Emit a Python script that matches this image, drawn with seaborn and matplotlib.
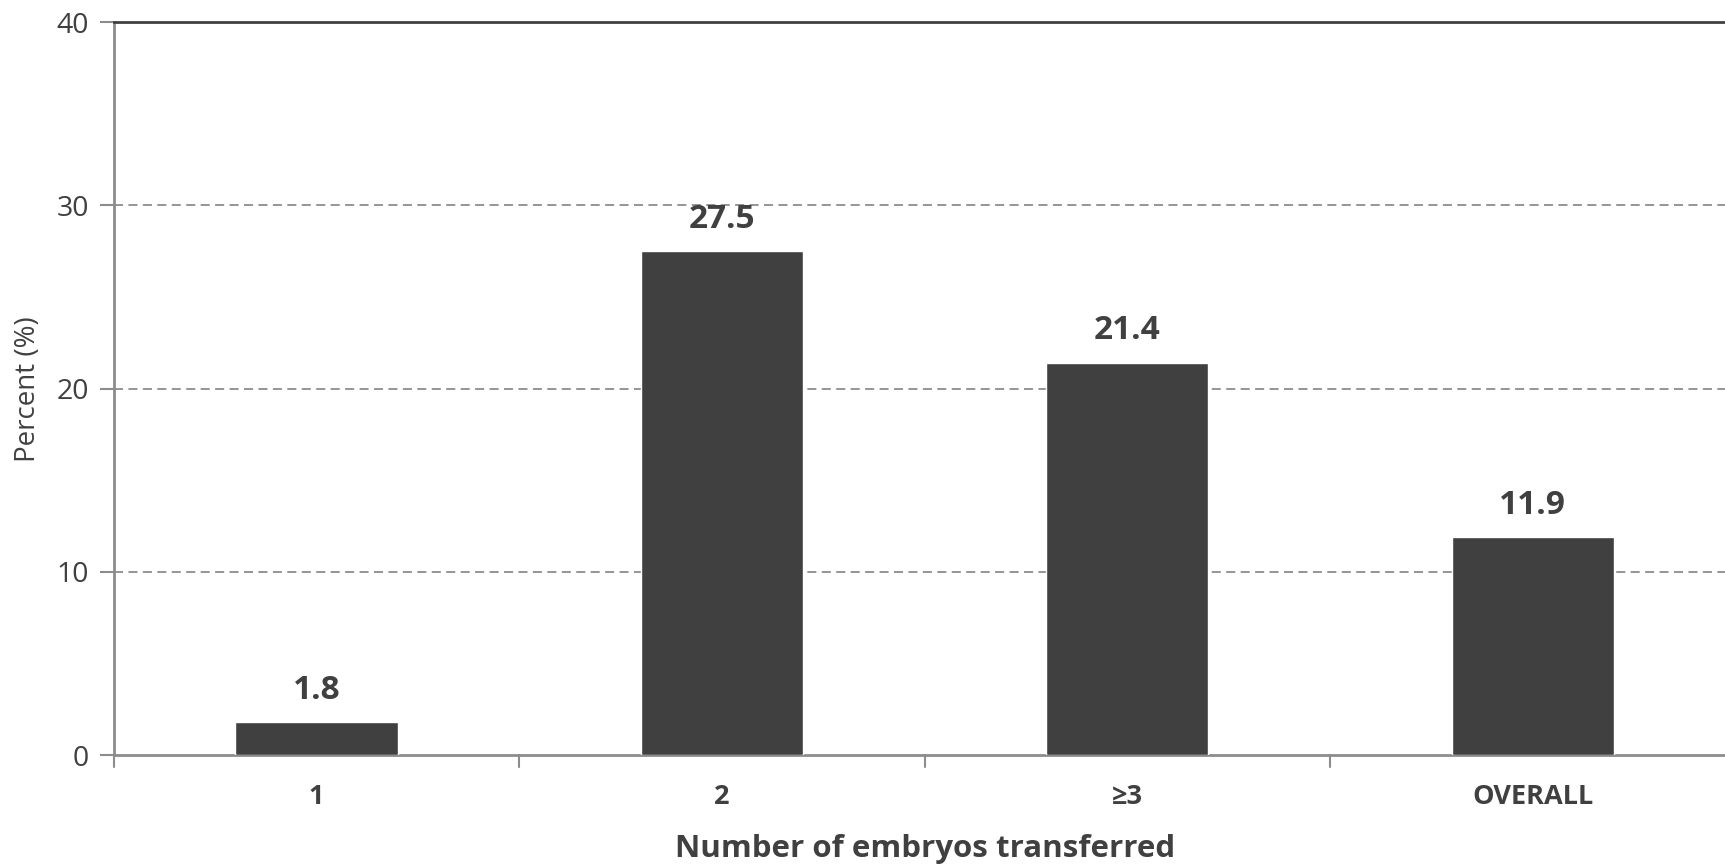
import pandas as pd
import matplotlib.pyplot as plt
import seaborn as sns

# Du lieu doc tu hinh
categories = ["1", "2", "≥3", "OVERALL"]
percent = [1.8, 27.5, 21.4, 11.9]
y_ticks = [0, 10, 20, 30, 40]

df = pd.DataFrame({"group": categories, "percent": percent})

sns.set_style("white")
plt.rcParams['font.family'] = ['Open Sans', 'DejaVu Sans']

dark = "#404040"
grey = "#8c8c8c"

fig = plt.figure(figsize=(17.25, 8.65), dpi=100)
ax = fig.add_axes([0.066, 0.127, 0.940, 0.8474])

sns.barplot(data=df, x="group", y="percent", color=dark, saturation=1,
            width=0.4, ax=ax, zorder=3)

ax.set_xlim(-0.5, len(categories) - 0.5)
ax.set_ylim(0, 40)
ax.set_yticks(y_ticks)
ax.set_yticklabels([str(t) for t in y_ticks], fontsize=20.5, color=dark)

# duong luoi dut net
for t in y_ticks[1:-1]:
    ax.axhline(t, color=grey, lw=1.3, ls=(0, (5, 3)), zorder=1)

# nhan gia tri tren cot
for i, v in enumerate(percent):
    ax.text(i, v + 0.85, f"{v}", ha="center", va="bottom",
            fontsize=24, fontweight="bold", color=dark)

# nhan truc x (dat o giua cot), vach chia o ranh gioi
ax.set_xticks(range(len(categories)))
ax.set_xticklabels(categories, fontsize=19.5, fontweight="bold", color=dark)
ax.tick_params(axis="x", length=0, pad=21)
for b in [-0.5, 0.5, 1.5, 2.5]:
    ax.plot([b, b], [0, -0.016], transform=ax.get_xaxis_transform(),
            color=grey, lw=1.5, clip_on=False)

ax.tick_params(axis="y", length=10, width=1.5, color=grey, left=True, pad=8)

for side in ["left", "bottom"]:
    ax.spines[side].set_color(grey)
    ax.spines[side].set_linewidth(2)
ax.spines["right"].set_visible(False)
ax.spines["top"].set_color(dark)
ax.spines["top"].set_linewidth(2)

ax.set_xlabel("Number of embryos transferred", fontsize=22.5, fontweight="bold",
              color=dark, labelpad=17)
ax.set_ylabel("Percent (%)", fontsize=20, color=dark, labelpad=10)

fig.savefig("out.png", dpi=100)
